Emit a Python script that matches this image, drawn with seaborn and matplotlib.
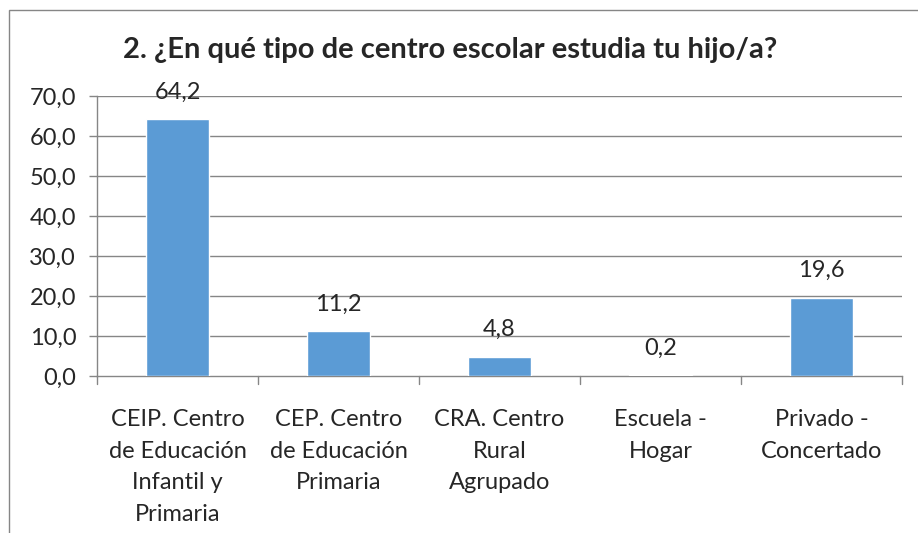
import matplotlib
matplotlib.use("Agg")
import matplotlib.pyplot as plt
import seaborn as sns
import pandas as pd
from matplotlib.patches import Rectangle

##### DADOS ######################################################################
categorias = ["CEIP. Centro\nde Educación\nInfantil y\nPrimaria",
              "CEP. Centro\nde Educación\nPrimaria",
              "CRA. Centro\nRural\nAgrupado",
              "Escuela -\nHogar",
              "Privado -\nConcertado"]
valores = [64.2, 11.2, 4.8, 0.2, 19.6]
ticks_y = [0, 10, 20, 30, 40, 50, 60, 70]
titulo = "2. ¿En qué tipo de centro escolar estudia tu hijo/a?"

dados = pd.DataFrame({"centro": categorias, "pct": valores})

##### ESTILO #####################################################################
sns.set_style("white")
plt.rcParams["font.family"] = ["Lato", "DejaVu Sans"]
cinza = "#868686"
tam = 17

fig = plt.figure(figsize = (9.18, 5.33), dpi = 100)
ax = fig.add_axes([97/918, 1 - 376/533, (902 - 97)/918, (376 - 96)/533])

sns.barplot(data = dados, x = "centro", y = "pct", color = "#5B9BD5",
            saturation = 1, width = 0.39, ax = ax, zorder = 3)

ax.set_ylim(0, 70)
ax.set_xlim(-0.5, len(categorias) - 0.5)
ax.set_yticks(ticks_y)
ax.set_yticklabels([f"{v:.1f}".replace(".", ",") for v in ticks_y], fontsize = tam)
ax.set_xticks(range(len(categorias)))
ax.set_xticklabels(categorias, fontsize = tam, linespacing = 1.62)
ax.set_xlabel("")
ax.set_ylabel("")

# grade horizontal
for v in ticks_y[1:]:
	ax.axhline(v, color = cinza, lw = 1, zorder = 1)

for lado in ["top", "right"]:
	ax.spines[lado].set_visible(False)
for lado in ["left", "bottom"]:
	ax.spines[lado].set_color(cinza)
	ax.spines[lado].set_linewidth(1)

ax.tick_params(axis = "y", length = 6, color = cinza, width = 1, pad = 9, left = True)
ax.tick_params(axis = "x", length = 0, pad = 24)
# marcas entre categorias
for i in range(len(categorias) + 1):
	ax.plot([i - 0.5, i - 0.5], [0, -2.0], color = cinza, lw = 1, clip_on = False, zorder = 2)

for i, v in enumerate(valores):
	ax.annotate(f"{v:.1f}".replace(".", ","), (i, v), xytext = (0, 12), textcoords = "offset points",
	            ha = "center", va = "bottom", fontsize = tam)

fig.text(450/918, 1 - 50/533, titulo, ha = "center", va = "center",
         fontsize = 21, weight = "bold")

# moldura do gráfico
fig.add_artist(Rectangle((9/918, -0.1), 1.2, 1 - 10/533 + 0.1, transform = fig.transFigure,
                         fill = False, edgecolor = cinza, lw = 1))

fig.savefig("out.png", dpi = 100)
